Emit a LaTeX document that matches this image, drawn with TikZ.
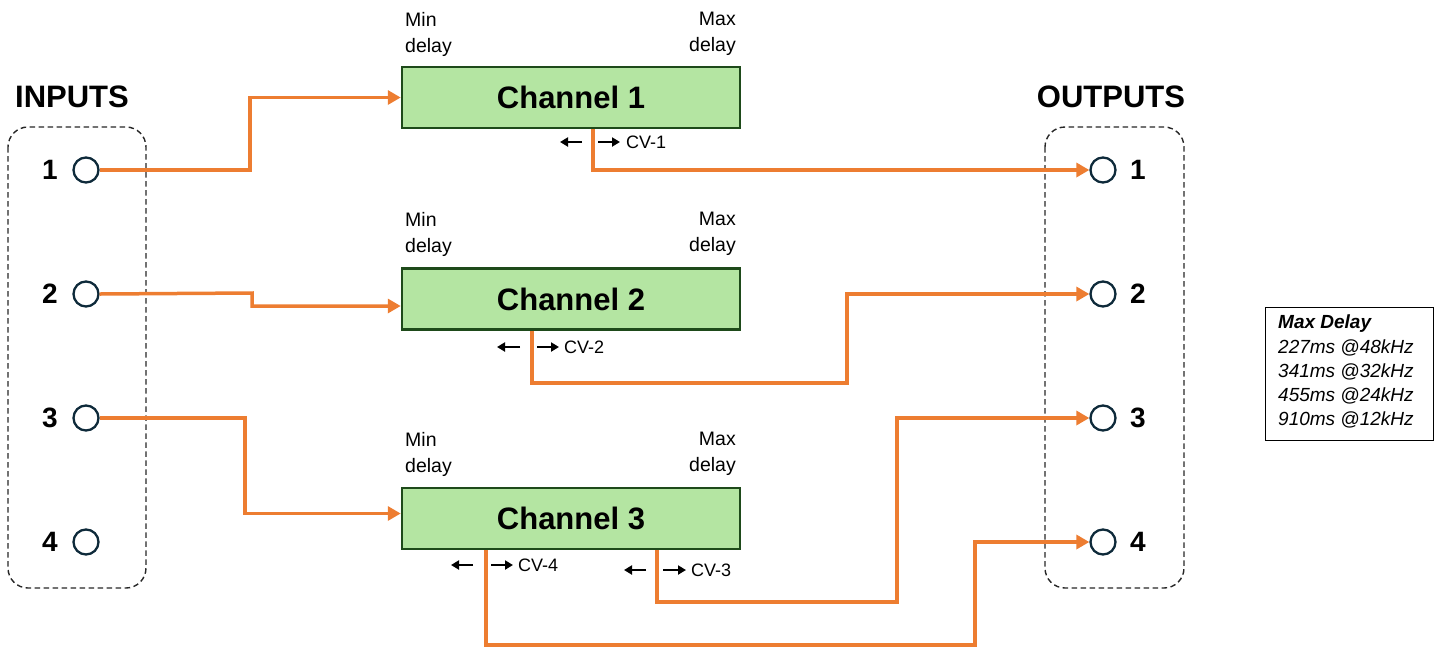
\documentclass[tikz,border=0pt]{standalone}
\usepackage{fontspec}
\setmainfont{Liberation Sans}
\usetikzlibrary{arrows.meta}
\definecolor{org}{HTML}{ED7D31}
\definecolor{chfill}{HTML}{B4E5A2}
\definecolor{chdraw}{HTML}{1E4A1A}
\definecolor{portc}{HTML}{0E2A3A}
\begin{document}
\begin{tikzpicture}[x=1pt,y=-1pt,
  chan/.style={draw=chdraw,fill=chfill,line width=2.5pt,minimum width=338pt,minimum height=61pt,inner sep=0pt,font=\fontsize{31}{33}\selectfont\bfseries},
  port/.style={circle,draw=portc,line width=2.3pt,minimum size=25pt,inner sep=0pt},
  num/.style={font=\fontsize{28}{30}\selectfont\bfseries,inner sep=0pt},
  head/.style={font=\fontsize{31}{33}\selectfont\bfseries,inner sep=0pt},
  small/.style={font=\fontsize{19.5}{26}\selectfont,inner sep=0pt,align=left},
  cvtext/.style={font=\fontsize{18}{20}\selectfont,inner sep=0pt,anchor=west},
  wire/.style={draw=org,line width=3.5pt},
  wirea/.style={wire,-{Triangle[length=13pt,width=14pt]}},
  cva/.style={draw=black,line width=2.2pt,-{Triangle[length=8pt,width=9pt]}},
  grp/.style={draw=black!85,dashed,dash pattern=on 5.5pt off 3.5pt,line width=1.4pt,rounded corners=20pt},
]
\useasboundingbox (0,0) rectangle (1440,649);

% groups
\draw[grp] (8,127) rectangle (146,588);
\draw[grp] (1045,127) rectangle (1184,588);
\node[head] (hin) at (72,97) {INPUTS};
\node[head] (hout) at (1111,97) {OUTPUTS};

% ports
\foreach \i/\y in {1/170,2/294,3/418,4/542}{
  \node[port] (i\i) at (86,\y) {};
  \node[num] (il\i) at (50,\y) {\i};
  \node[port] (o\i) at (1103,\y) {};
  \node[num] (ol\i) at (1138,\y) {\i};
}

% channels
\node[chan] (c1) at (571,97.5) {Channel 1};
\node[chan] (c2) at (571,299) {Channel 2};
\node[chan] (c3) at (571,518.5) {Channel 3};

\foreach \c/\y in {1/20,2/220,3/440}{
  \node[small,anchor=north west] (mn\c) at (405,\y-8) {Min\\delay};
  \node[small,anchor=north east,align=right] (mx\c) at (736,\y-8) {Max\\delay};
}

% wires
\draw[wirea] (i1.east) -- (250,170) |- (c1.west);
\draw[wirea] (i2.east) -- (252,293) -- (252,306) -- ([yshift=-7]c2.west);
\draw[wirea] (i3.east) -- (245,418) |- ([yshift=5]c3.west);

\draw[wirea] ([xshift=22]c1.south) |- (o1.west);
\draw[wirea] ([xshift=-39]c2.south) |- (847,383) |- (o2.west);
\draw[wirea] ([xshift=86]c3.south) |- (897,602) |- (o3.west);
\draw[wirea] ([xshift=-85]c3.south) |- (975,645) |- (o4.west);

% CV arrows and labels
\draw[cva] (582,142) -- (560,142);
\draw[cva] (598,142) -- (620,142);
\node[cvtext] (cv1) at (626,142) {CV-1};

\draw[cva] (520,347) -- (497,347);
\draw[cva] (537,347) -- (559,347);
\node[cvtext] (cv2) at (564,347) {CV-2};

\draw[cva] (473,565) -- (451,565);
\draw[cva] (491,565) -- (513,565);
\node[cvtext] (cv4) at (518,565) {CV-4};

\draw[cva] (646,570) -- (624,570);
\draw[cva] (663,570) -- (686,570);
\node[cvtext] (cv3) at (691,570) {CV-3};

% max delay box
\node[draw=black,line width=1.2pt,anchor=north west,minimum width=168pt,minimum height=133pt,inner sep=0pt] (md) at (1265,307) {};
\node[anchor=north west,inner sep=0pt,align=left,font=\fontsize{19}{24.2}\selectfont\itshape] (mdt) at (1278,315)
 {\textbf{Max Delay}\\227ms @48kHz\\341ms @32kHz\\455ms @24kHz\\910ms @12kHz};
\end{tikzpicture}
\end{document}
